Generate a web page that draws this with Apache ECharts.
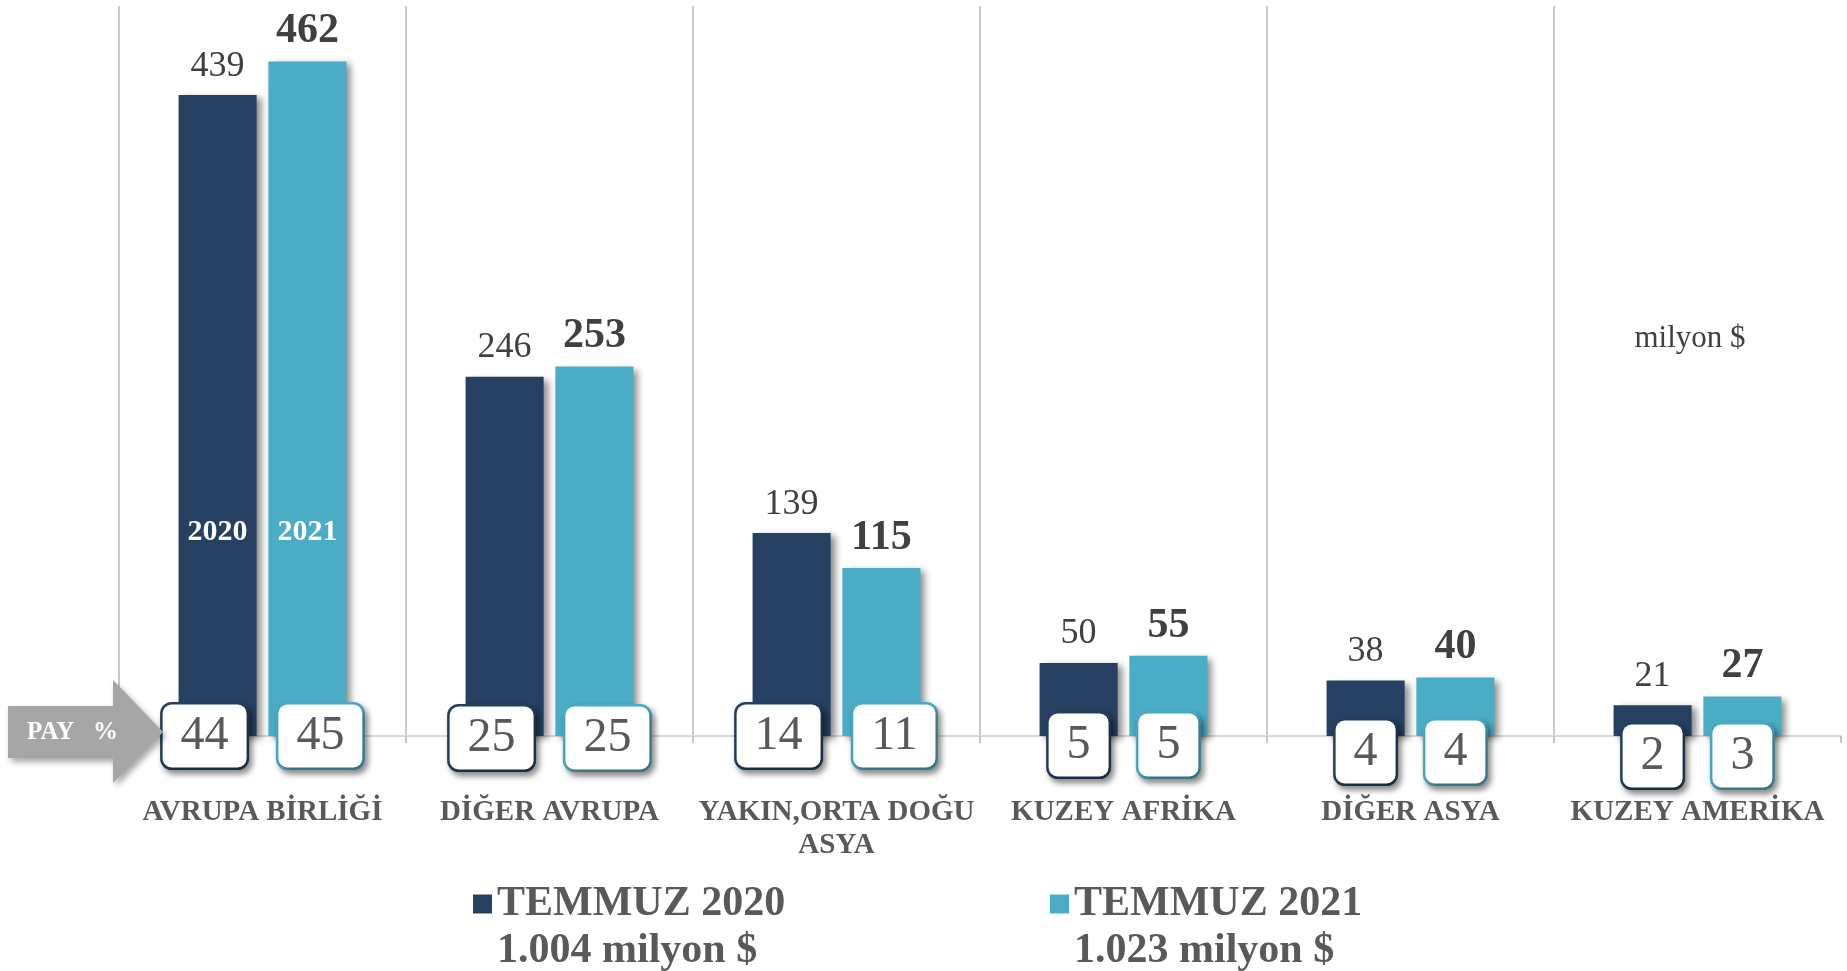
<!DOCTYPE html>
<html>
<head>
<meta charset="utf-8">
<title>Temmuz ihracat bölgeler</title>
<script src="https://cdn.jsdelivr.net/npm/echarts@6/dist/echarts.min.js"></script>
<style>
  html, body { margin: 0; padding: 0; background: #fff; }
  #chart { width: 1847px; height: 971px; }
</style>
</head>
<body>
<div id="chart"></div>
<script>
// data
var regions = ['AVRUPA BİRLİĞİ', 'DİĞER AVRUPA', 'YAKIN,ORTA DOĞU ASYA', 'KUZEY AFRİKA', 'DİĞER ASYA', 'KUZEY AMERİKA'];
var seriesNames = ['TEMMUZ 2020', 'TEMMUZ 2021'];
var temmuz2020 = [439, 246, 139, 50, 38, 21];
var temmuz2021 = [462, 253, 115, 55, 40, 27];
var pay2020 = [44, 25, 14, 5, 4, 2];
var pay2021 = [45, 25, 11, 5, 4, 3];
var totals = ['1.004 milyon $', '1.023 milyon $'];
var yearTags = ['2020', '2021'];
var unitText = 'milyon $';
var payText = 'PAY   %';

var serif = '"Liberation Serif", "DejaVu Serif", serif';
var dark = '#254061', light = '#4bacc6';
// small vertical drop of the share boxes under the short bars
var boxDrop = [0, 2, 0, 9, 16, 20];

function payMarks(pay, side, color, year) {
  var marks = pay.map(function (p, i) {
    return {
      coord: [regions[i], 0],
      value: p,
      label: { offset: [p >= 10 ? side * 13 : 0, boxDrop[i]] }
    };
  });
  marks.push({
    coord: [regions[0], 0],
    value: year,
    label: {
      offset: [0, -204], backgroundColor: 'transparent', borderWidth: 0,
      color: '#fff', fontWeight: 'bold', fontSize: 30, lineHeight: 32,
      padding: 0, shadowBlur: 0, shadowOffsetX: 0, shadowOffsetY: 0
    }
  });
  return {
    symbol: 'rect', symbolSize: 0, silent: true,
    label: {
      show: true, position: 'inside', formatter: '{c}',
      fontFamily: serif, fontSize: 48, lineHeight: 49, color: '#595959',
      backgroundColor: '#fff', borderColor: color, borderWidth: 2.5, borderRadius: 9,
      padding: [7, 18],
      shadowColor: 'rgba(0,0,0,0.4)', shadowBlur: 6, shadowOffsetX: 3, shadowOffsetY: 4
    },
    data: marks
  };
}

function barSeries(name, values, color, bold, pay, side, year) {
  return {
    name: name,
    type: 'bar',
    data: values,
    barWidth: '27.2%',
    barGap: '15%',
    itemStyle: {
      color: color,
      shadowColor: 'rgba(0,0,0,0.45)', shadowBlur: 7, shadowOffsetX: 5, shadowOffsetY: 3
    },
    label: {
      show: true, position: 'top',
      distance: bold ? 9 : 11,
      fontFamily: serif,
      fontSize: bold ? 42 : 36,
      fontWeight: bold ? 'bold' : 'normal',
      color: '#404040'
    },
    markPoint: payMarks(pay, side, color, year)
  };
}

var legendText = { fontFamily: serif, fontSize: 42, fontWeight: 'bold', color: '#595959', lineHeight: 48 };

var option = {
  animation: false,
  backgroundColor: '#fff',
  grid: { left: 119, right: 6, top: 6, bottom: 235 },
  legend: [
    { data: [seriesNames[0]], left: 468, top: 875, icon: 'rect', itemWidth: 19, itemHeight: 19,
      itemStyle: { shadowBlur: 0, shadowOffsetX: 0, shadowOffsetY: 0 }, textStyle: legendText, selectedMode: false },
    { data: [seriesNames[1]], left: 1045, top: 875, icon: 'rect', itemWidth: 19, itemHeight: 19,
      itemStyle: { shadowBlur: 0, shadowOffsetX: 0, shadowOffsetY: 0 }, textStyle: legendText, selectedMode: false }
  ],
  xAxis: {
    type: 'category',
    data: regions,
    axisLine: { lineStyle: { color: '#d9d9d9', width: 2 } },
    axisTick: { show: true, length: 7, lineStyle: { color: '#b7b7b7', width: 1.5 } },
    splitLine: { show: true, showMaxLine: false, lineStyle: { color: '#b7b7b7', width: 1.5 } },
    axisLabel: {
      margin: 60, interval: 0,
      fontFamily: serif, fontSize: 29, fontWeight: 'bold', color: '#595959',
      lineHeight: 33, align: 'center',
      formatter: function (v) { return v.replace('DOĞU ', 'DOĞU\n'); }
    }
  },
  yAxis: {
    type: 'value', min: 0, max: 500, show: false,
    splitLine: { show: false }
  },
  series: [
    barSeries(seriesNames[0], temmuz2020, dark, false, pay2020, -1, yearTags[0]),
    barSeries(seriesNames[1], temmuz2021, light, true, pay2021, 1, yearTags[1])
  ],
  graphic: [
    {
      type: 'polygon', z: 10,
      shape: { points: [[8, 706], [113, 706], [113, 680], [163, 732], [113, 783], [113, 758], [8, 758]] },
      style: { fill: '#a6a6a6', shadowColor: 'rgba(0,0,0,0.35)', shadowBlur: 6, shadowOffsetX: 3, shadowOffsetY: 4 }
    },
    {
      type: 'text', z: 11, x: 27, y: 733,
      style: { text: payText, font: 'bold 25px ' + serif, fill: '#fff', verticalAlign: 'middle' }
    },
    {
      type: 'text', x: 1690, y: 339,
      style: { text: unitText, font: '31px ' + serif, fill: '#404040', align: 'center', verticalAlign: 'middle' }
    },
    {
      type: 'text', left: 497, top: 930,
      style: { text: totals[0], font: 'bold 42px ' + serif, fill: '#595959' }
    },
    {
      type: 'text', left: 1074, top: 930,
      style: { text: totals[1], font: 'bold 42px ' + serif, fill: '#595959' }
    }
  ]
};

var myChart = echarts.init(document.getElementById('chart'));
myChart.setOption(option);
</script>
</body>
</html>
